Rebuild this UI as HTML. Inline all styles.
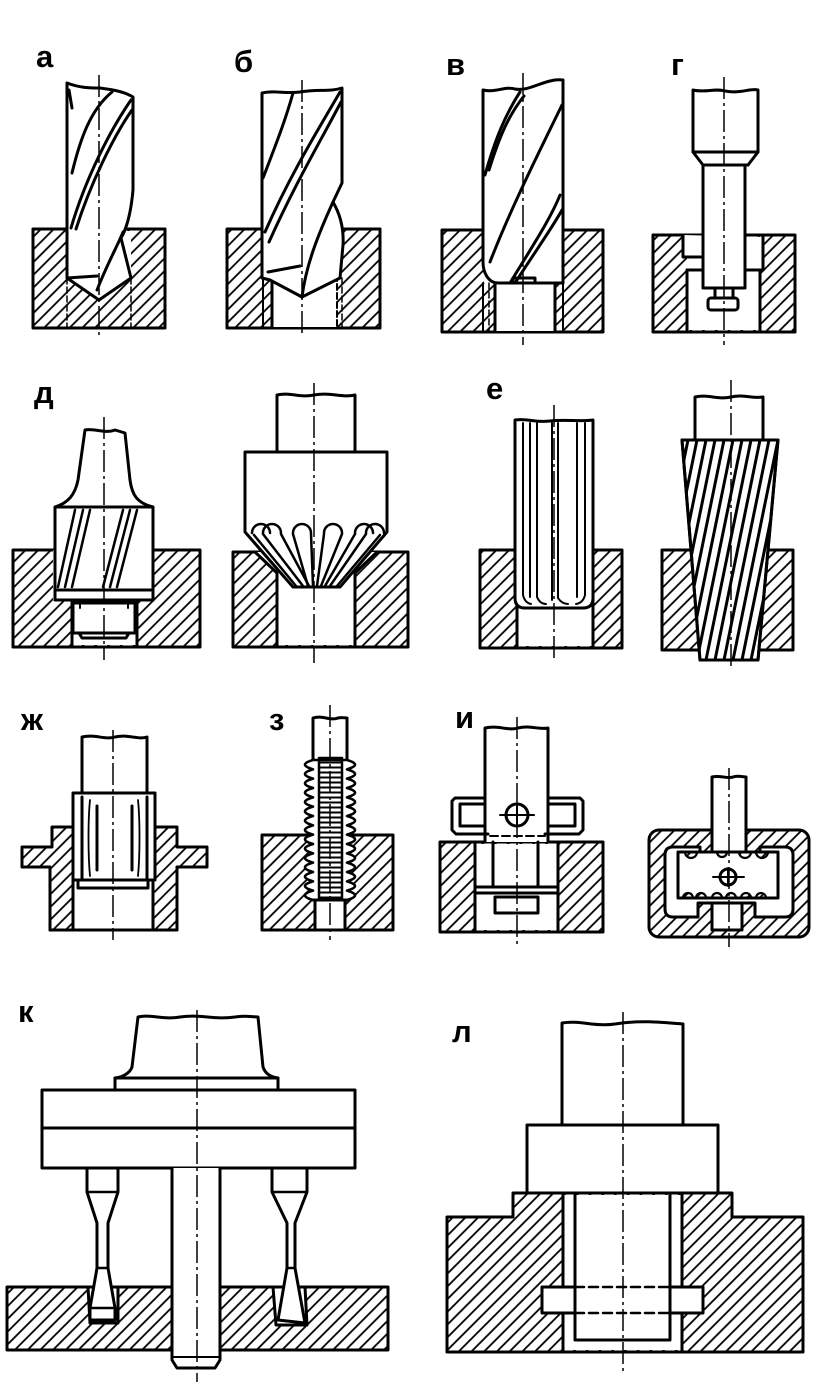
<!DOCTYPE html>
<html><head><meta charset="utf-8">
<style>
html,body{margin:0;padding:0;background:#fff;}
svg{display:block;}
text{font-family:"Liberation Sans","DejaVu Sans",sans-serif;font-weight:bold;font-size:31px;fill:#000;}
</style></head><body>
<svg width="840" height="1390" viewBox="0 0 840 1390" xmlns="http://www.w3.org/2000/svg">
<defs>
<pattern id="h" patternUnits="userSpaceOnUse" width="9" height="9" patternTransform="rotate(45)">
<line x1="2" y1="-1" x2="2" y2="10" stroke="#000" stroke-width="1.8"/>
</pattern>
<pattern id="hz" patternUnits="userSpaceOnUse" width="10" height="5">
<line x1="0" y1="2.5" x2="10" y2="2.5" stroke="#000" stroke-width="2"/>
</pattern>
<clipPath id="cr"><path d="M682,440 L778,440 L758,660 L700,660 Z"/></clipPath>
</defs>

<!-- labels -->
<text x="36" y="67">а</text>
<text x="234" y="72">б</text>
<text x="446" y="75">в</text>
<text x="671" y="75">г</text>
<text x="34" y="403">д</text>
<text x="486" y="399">е</text>
<text x="21" y="730">ж</text>
<text x="269" y="730">з</text>
<text x="455" y="728">и</text>
<text x="18" y="1022">к</text>
<text x="452" y="1042">л</text>

<g fill="none" stroke="#000" stroke-width="3" stroke-linejoin="round" stroke-linecap="round">

<!-- ===== а ===== -->
<rect x="33" y="229" width="132" height="99" fill="url(#h)"/>
<rect x="68" y="231" width="63" height="47" fill="#fff" stroke="none"/>
<line x1="67" y1="278" x2="67" y2="328" stroke-width="1.5" stroke-dasharray="6 3"/>
<line x1="131" y1="278" x2="131" y2="328" stroke-width="1.5" stroke-dasharray="6 3"/>
<path d="M67,83 C80,88 90,88 100,88 C115,90 125,92 133,97 L133,190 C131,212 127,228 121,238 L131,278 L99,300 L67,278 Z" fill="#fff"/>
<path d="M67,278 L97,276"/>
<path d="M72,173 C80,140 90,110 112,92"/>
<path d="M71,228 C85,180 110,130 131,100"/>
<path d="M76,229 C90,185 113,137 132,110"/>
<path d="M97,290 C108,262 118,245 123,232"/>
<path d="M69,90 L72,108"/>

<!-- ===== б ===== -->
<rect x="227" y="229" width="153" height="99" fill="url(#h)"/>
<rect x="263" y="231" width="78" height="47" fill="#fff" stroke="none"/>
<rect x="272" y="278" width="65" height="49" fill="#fff" stroke="none"/>
<line x1="263" y1="278" x2="263" y2="328" stroke-width="2"/>
<line x1="272" y1="275" x2="272" y2="328"/>
<line x1="337" y1="275" x2="337" y2="328" stroke-width="2" stroke-dasharray="6 3"/>
<line x1="342" y1="278" x2="342" y2="328" stroke-width="1.5" stroke-dasharray="6 3"/>
<path d="M262,93 C275,90 285,94 300,92 C318,89 330,92 342,88 L342,183 L333,202 C340,214 344,228 343,245 L340,278 L302,297 L270,280 L262,278 Z" fill="#fff"/>
<path d="M268,272 L300,266"/>
<path d="M333,202 C318,235 306,265 302,297"/>
<path d="M340,92 C318,130 290,175 265,232"/>
<path d="M341,102 C320,142 295,184 269,242"/>
<path d="M293,93 C285,122 273,152 263,178"/>

<!-- ===== в ===== -->
<rect x="442" y="230" width="161" height="102" fill="url(#h)"/>
<rect x="484" y="232" width="78" height="51" fill="#fff" stroke="none"/>
<rect x="495" y="283" width="60" height="48" fill="#fff" stroke="none"/>
<line x1="483" y1="283" x2="483" y2="332" stroke-width="2"/>
<line x1="489" y1="283" x2="489" y2="332" stroke-width="1.5" stroke-dasharray="6 3"/>
<line x1="495" y1="283" x2="495" y2="332"/>
<line x1="555" y1="283" x2="555" y2="332"/>
<line x1="563" y1="283" x2="563" y2="332" stroke-width="2"/>
<path d="M483,90 C495,93 505,86 515,89 C530,92 545,78 563,80 L563,283 L498,283 C488,283 483,272 483,262 Z" fill="#fff"/>
<path d="M485,175 C495,140 505,115 520,92"/>
<path d="M489,170 C499,138 508,116 524,96"/>
<path d="M490,262 C510,210 540,150 562,105"/>
<path d="M510,283 C530,250 550,220 560,195"/>
<path d="M515,283 C533,255 552,228 562,210"/>
<path d="M513,283 L513,278 L535,278 L535,283"/>

<!-- ===== г ===== -->
<rect x="653" y="235" width="142" height="97" fill="url(#h)"/>
<path d="M683,235 L683,257 L687,257 L687,330 L760,330 L760,270 L763,270 L763,237 Z" fill="#fff" stroke="none"/>
<path d="M683,235 L683,257 L703,257"/>
<path d="M687,270 L703,270"/>
<path d="M687,270 L687,332"/>
<path d="M763,235 L763,270 L745,270"/>
<path d="M760,270 L760,332"/>
<path d="M693,90 C705,93 715,88 725,91 C740,94 750,88 758,90 L758,152 L748,165 L745,165 L745,288 L703,288 L703,165 L693,152 Z" fill="#fff"/>
<path d="M693,152 L758,152"/>
<path d="M703,165 L748,165"/>
<rect x="715" y="288" width="18" height="10" fill="#fff"/>
<rect x="708" y="298" width="30" height="12" rx="3" fill="#fff"/>

<!-- ===== д left ===== -->
<rect x="13" y="550" width="187" height="97" fill="url(#h)"/>
<path d="M53,550 L153,550 L153,600 L137,600 L137,645 L72,645 L72,600 L53,600 Z" fill="#fff" stroke="none"/>
<path d="M72,600 L72,647"/>
<path d="M137,600 L137,647"/>
<path d="M55,507 C68,503 75,495 78,480 L85,430 C95,428 105,434 115,430 L125,433 L130,480 C132,495 137,503 153,507 Z" fill="#fff"/>
<rect x="55" y="507" width="98" height="93" fill="#fff"/>
<path d="M57,590 L151,590"/>
<g stroke-width="2.5">
<path d="M58,587 L75,510"/><path d="M65,587 L83,510"/><path d="M72,587 L90,510"/>
<path d="M103,587 L123,510"/><path d="M110,587 L130,510"/><path d="M117,587 L137,510"/>
</g>
<rect x="73" y="603" width="62" height="30" fill="#fff"/>
<path d="M79,633 L82,638 L126,638 L129,633"/>
<path d="M80,603 L80,608 M128,603 L128,608" stroke-width="2"/>

<!-- ===== д right ===== -->
<rect x="233" y="552" width="175" height="95" fill="url(#h)"/>
<path d="M255,552 L377,552 L355,573 L355,645 L277,645 L277,573 Z" fill="#fff" stroke="none"/>
<path d="M255,552 L277,573 L277,647"/>
<path d="M377,552 L355,573 L355,647"/>
<path d="M277,452 L277,395 C290,392 300,398 314,395 C330,392 342,398 355,395 L355,452" fill="#fff"/>
<path d="M245,452 L387,452 L387,532 L340,587 L293,587 L245,532 Z" fill="#fff"/>
<g stroke-width="2.5">
<path d="M252,533 A9,9 0 0 1 270,533"/>
<path d="M263,533 A9,9 0 0 1 281,533"/>
<path d="M293,533 A9,9 0 0 1 311,533"/>
<path d="M324,533 A9,9 0 0 1 342,533"/>
<path d="M355,533 A9,9 0 0 1 373,533"/>
<path d="M366,533 A9,9 0 0 1 384,533"/>
<path d="M254,535 L296,586"/>
<path d="M263,534 L303,586"/>
<path d="M281,534 L309,586"/>
<path d="M293,534 L308,586"/>
<path d="M311,534 L313,586"/>
<path d="M324,534 L317,586"/>
<path d="M342,534 L321,586"/>
<path d="M355,534 L325,586"/>
<path d="M366,534 L330,586"/>
<path d="M380,535 L337,586"/>
</g>

<!-- ===== е left ===== -->
<rect x="480" y="550" width="142" height="98" fill="url(#h)"/>
<rect x="517" y="552" width="76" height="94" fill="#fff" stroke="none"/>
<path d="M517,550 L517,648"/>
<path d="M593,550 L593,648"/>
<path d="M515,420 C528,418 535,423 550,421 C565,419 580,422 593,420 L593,598 Q593,608 583,608 L525,608 Q515,608 515,598 Z" fill="#fff"/>
<g stroke-width="2">
<path d="M523,423 L523,595 Q525,603 531,604"/>
<path d="M530,423 L530,597"/>
<path d="M537,423 L537,597 Q540,604 546,604"/>
<path d="M552,423 L552,600"/>
<path d="M558,423 L558,598 Q562,604 568,604"/>
<path d="M577,423 L577,597"/>
<path d="M585,423 L585,595 Q583,603 576,604"/>
</g>

<!-- ===== е right ===== -->
<rect x="662" y="550" width="131" height="100" fill="url(#h)"/>
<path d="M695,440 L695,397 C708,394 718,400 731,397 C745,394 752,399 763,397 L763,440" fill="#fff"/>
<path d="M682,440 L778,440 L758,660 L700,660 Z" fill="#fff"/>
<g clip-path="url(#cr)" stroke-width="3">
<path d="M634,660 L679,440 M643,660 L688,440 M652,660 L697,440 M661,660 L706,440 M670,660 L715,440 M679,660 L724,440 M688,660 L733,440 M697,660 L742,440 M706,660 L751,440 M715,660 L760,440 M724,660 L769,440 M733,660 L778,440 M742,660 L787,440 M751,660 L796,440 M760,660 L805,440"/>
</g>
<path d="M682,440 L778,440 L758,660 L700,660 Z"/>

<!-- ===== ж ===== -->
<path d="M22,847 L52,847 L52,827 L73,827 L73,930 L50,930 L50,867 L22,867 Z" fill="url(#h)"/>
<path d="M153,827 L177,827 L177,847 L207,847 L207,867 L177,867 L177,930 L153,930 Z" fill="url(#h)"/>
<path d="M50,930 L177,930"/>
<path d="M82,793 L82,737 C95,734 105,740 115,737 C128,734 138,740 147,737 L147,793" fill="#fff"/>
<rect x="73" y="793" width="82" height="87" fill="#fff"/>
<rect x="78" y="880" width="70" height="8" fill="#fff"/>
<path d="M82,797 L82,878"/>
<path d="M90,800 C88,820 88,855 90,876" stroke-width="1.8"/>
<path d="M97,806 L97,870"/>
<path d="M132,806 L132,870"/>
<path d="M138,800 C140,820 140,855 138,876" stroke-width="1.8"/>
<path d="M147,797 L147,878"/>

<!-- ===== з ===== -->
<rect x="262" y="835" width="131" height="95" fill="url(#h)"/>
<rect x="315" y="900" width="30" height="30" fill="#fff"/>
<path d="M313,760 L313,718 C322,715 330,721 338,718 C342,717 345,718 347,718 L347,760" fill="#fff"/>
<path d="M313,760 q-16,4.667 0,9.333 q-16,4.667 0,9.333 q-16,4.667 0,9.333 q-16,4.667 0,9.333 q-16,4.667 0,9.333 q-16,4.667 0,9.333 q-16,4.667 0,9.333 q-16,4.667 0,9.333 q-16,4.667 0,9.333 q-16,4.667 0,9.333 q-16,4.667 0,9.333 q-16,4.667 0,9.333 q-16,4.667 0,9.333 q-16,4.667 0,9.333 q-16,4.667 0,9.333 L347,900 q16,-4.667 0,-9.333 q16,-4.667 0,-9.333 q16,-4.667 0,-9.333 q16,-4.667 0,-9.333 q16,-4.667 0,-9.333 q16,-4.667 0,-9.333 q16,-4.667 0,-9.333 q16,-4.667 0,-9.333 q16,-4.667 0,-9.333 q16,-4.667 0,-9.333 q16,-4.667 0,-9.333 q16,-4.667 0,-9.333 q16,-4.667 0,-9.333 q16,-4.667 0,-9.333 q16,-4.667 0,-9.333 Z" fill="#fff" stroke-width="2.6"/>
<rect x="319" y="758" width="23" height="142" fill="url(#hz)" stroke-width="2.5"/>
<path d="M313,900 L347,900"/>

<!-- ===== и left ===== -->
<rect x="440" y="842" width="163" height="90" fill="url(#h)"/>
<rect x="475" y="844" width="83" height="86" fill="#fff" stroke="none"/>
<path d="M475,842 L475,932"/>
<path d="M558,842 L558,932"/>
<path d="M485,842 L485,728 C498,725 508,731 518,728 C530,725 540,730 548,728 L548,842" fill="#fff"/>
<path d="M485,798 L455,798 L452,801 L452,830 L456,834 L488,834"/>
<path d="M485,804 L460,804 L460,826 L485,826"/>
<path d="M548,798 L580,798 L583,801 L583,830 L579,834 L545,834"/>
<path d="M548,804 L575,804 L575,826 L548,826"/>
<path d="M490,836 L545,836" stroke-dasharray="8 4" stroke-width="2"/>
<circle cx="517" cy="815" r="11" fill="#fff"/>
<path d="M500,815 L534,815 M517,805 L517,826" stroke-width="2"/>
<path d="M493,842 L493,887 M538,842 L538,887"/>
<path d="M475,887 L558,887 M475,893 L558,893"/>
<rect x="495" y="897" width="43" height="16"/>

<!-- ===== и right ===== -->
<rect x="649" y="830" width="160" height="107" rx="10" fill="url(#h)"/>
<path d="M673,847 L700,847 L700,853 L760,853 L760,847 L785,847 Q793,847 793,855 L793,909 Q793,917 785,917 L755,917 L755,903 L698,903 L698,917 L673,917 Q665,917 665,909 L665,855 Q665,847 673,847 Z" fill="#fff"/>
<rect x="713" y="828" width="33" height="26" fill="#fff" stroke="none"/>
<path d="M712,853 L712,777 C720,775 728,779 733,777 C738,775 742,777 746,777 L746,853" fill="#fff"/>
<rect x="678" y="852" width="100" height="46" fill="#fff"/>
<g fill="url(#h)" stroke-width="2.2">
<path d="M685,852 A6,6 0 0 0 697,852"/>
<path d="M717,852 A5,5 0 0 0 727,852"/>
<path d="M739,852 A6,6 0 0 0 751,852"/>
<path d="M756,852 A6,6 0 0 0 768,852"/>
<path d="M683,898 A5,5 0 0 1 693,898"/>
<path d="M696,898 A5,5 0 0 1 706,898"/>
<path d="M712,898 A5,5 0 0 1 722,898"/>
<path d="M726,898 A5,5 0 0 1 736,898"/>
<path d="M741,898 A5,5 0 0 1 751,898"/>
<path d="M756,898 A5,5 0 0 1 766,898"/>
</g>
<rect x="712" y="903" width="30" height="27" fill="#fff"/>
<circle cx="728" cy="877" r="8" fill="#fff"/>
<path d="M713,877 L744,877 M728,868 L728,886" stroke-width="2"/>

<!-- ===== к ===== -->
<rect x="7" y="1287" width="381" height="63" fill="url(#h)"/>
<path d="M88,1287 L118,1287 L118,1323 L90,1323 Z" fill="#fff"/>
<path d="M273,1287 L305,1287 L307,1325 L276,1325 Z" fill="#fff"/>
<path d="M138,1017 C150,1014 165,1020 180,1017 C200,1014 215,1020 235,1017 C245,1015 252,1017 258,1017 L263,1067 C265,1073 270,1077 278,1078 L278,1090 L115,1090 L115,1078 C123,1077 130,1073 132,1067 Z" fill="#fff"/>
<path d="M115,1078 L278,1078"/>
<rect x="42" y="1090" width="313" height="78" fill="#fff"/>
<path d="M42,1128 L355,1128"/>
<path d="M172,1168 L172,1360 L177,1368 L215,1368 L220,1360 L220,1168" fill="#fff"/>
<path d="M172,1357 L220,1357" stroke-width="2"/>
<path d="M87,1168 L118,1168 L118,1192 L108,1223 L108,1268 L115,1308 L115,1320 L90,1320 L90,1308 L97,1268 L97,1223 L87,1192 Z" fill="#fff"/>
<path d="M87,1192 L118,1192 M97,1268 L108,1268 M90,1308 L115,1308" stroke-width="2.5"/>
<path d="M272,1168 L307,1168 L307,1192 L295,1223 L295,1268 L305,1323 L278,1320 L287,1268 L287,1223 L272,1192 Z" fill="#fff"/>
<path d="M272,1192 L307,1192 M287,1268 L295,1268" stroke-width="2.5"/>

<!-- ===== л ===== -->
<path d="M447,1217 L513,1217 L513,1193 L732,1193 L732,1217 L803,1217 L803,1352 L447,1352 Z" fill="url(#h)"/>
<rect x="563" y="1195" width="119" height="155" fill="#fff" stroke="none"/>
<path d="M563,1193 L563,1352 M682,1193 L682,1352"/>
<path d="M562,1125 L562,1023 C580,1020 595,1027 615,1024 C640,1020 660,1022 683,1024 L683,1125" fill="#fff"/>
<rect x="527" y="1125" width="191" height="68" fill="#fff"/>
<rect x="542" y="1287" width="161" height="26" fill="#fff" stroke="none"/>
<path d="M575,1195 L575,1340 L670,1340 L670,1195"/>
<path d="M575,1287 L542,1287 L542,1313 L575,1313"/>
<path d="M670,1287 L703,1287 L703,1313 L670,1313"/>
<path d="M575,1287 L670,1287 M575,1313 L670,1313" stroke-dasharray="9 5" stroke-width="2.5"/>
</g>

<!-- centerlines -->
<g stroke="#000" stroke-width="1.5" stroke-dasharray="22 4 3 4" fill="none">
<line x1="99" y1="75" x2="99" y2="338"/>
<line x1="302" y1="80" x2="302" y2="337"/>
<line x1="523" y1="73" x2="523" y2="345"/>
<line x1="724" y1="77" x2="724" y2="345"/>
<line x1="104" y1="417" x2="104" y2="660"/>
<line x1="314" y1="383" x2="314" y2="663"/>
<line x1="554" y1="405" x2="554" y2="660"/>
<line x1="731" y1="380" x2="731" y2="670"/>
<line x1="113" y1="730" x2="113" y2="940"/>
<line x1="330" y1="705" x2="330" y2="940"/>
<line x1="517" y1="717" x2="517" y2="947"/>
<line x1="729" y1="768" x2="729" y2="947"/>
<line x1="197" y1="1010" x2="197" y2="1382"/>
<line x1="623" y1="1012" x2="623" y2="1372"/>
</g>
</svg>
</body></html>
